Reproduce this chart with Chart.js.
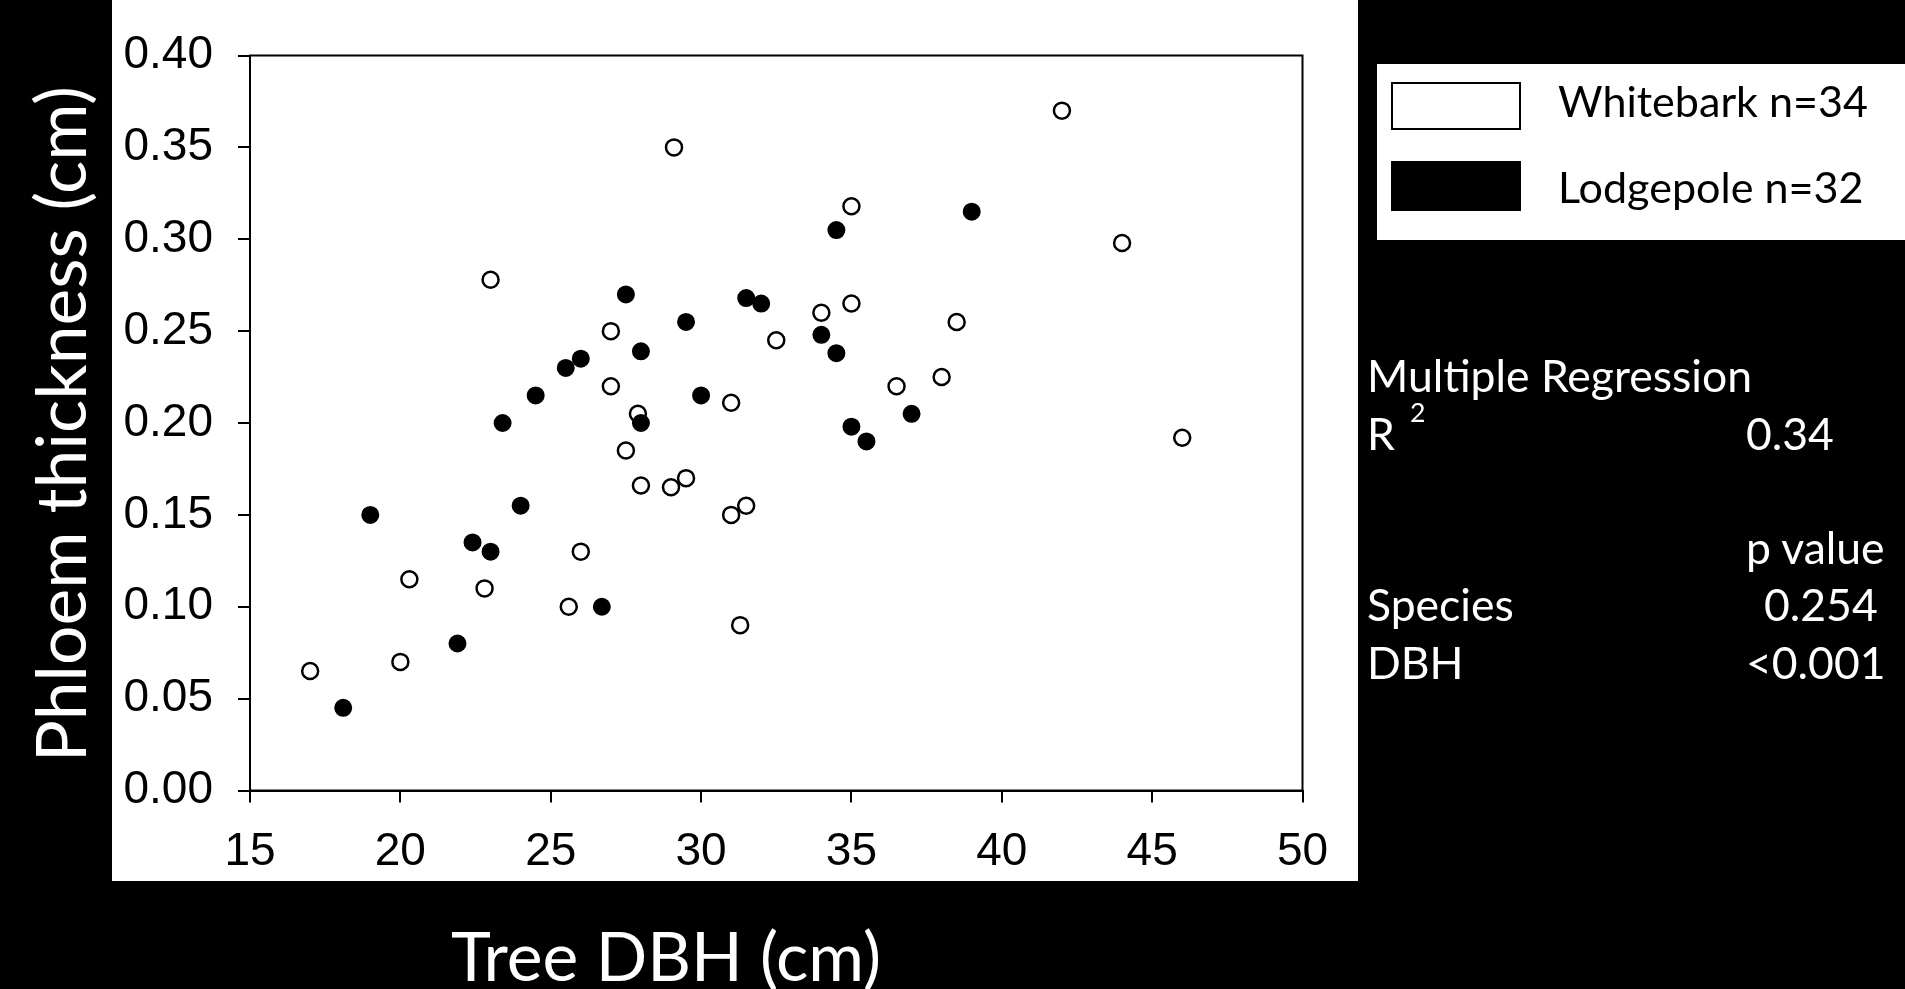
<!DOCTYPE html>
<html>
<head>
<meta charset="utf-8">
<script src="https://cdn.jsdelivr.net/npm/chart.js@4.4.1/dist/chart.umd.min.js"></script>
<style>
  html, body { margin: 0; padding: 0; background: #000; width: 1905px; height: 989px; overflow: hidden; }
  #panel { position: absolute; left: 112px; top: 0; width: 1246px; height: 881px; background: #fff; }
  #c { display: block; }
  #overlay { position: absolute; left: 0; top: 0; width: 1905px; height: 989px; pointer-events: none; }
  #legendBox { position: absolute; left: 1377px; top: 64px; width: 528px; height: 176px; background: #fff; }
  .sw { position: absolute; left: 14px; width: 130px; box-sizing: border-box; }
</style>
</head>
<body>
<div id="panel"><canvas id="c" width="1246" height="881"></canvas></div>
<div id="legendBox">
  <div class="sw" style="top:18px;height:48px;background:#fff;border:2px solid #000;"></div>
  <div class="sw" style="top:97px;height:50px;background:#000;"></div>
</div>
<svg id="overlay" width="1905" height="989" xmlns="http://www.w3.org/2000/svg">
  <g font-family="Lato, 'Open Sans', sans-serif">
    <text id="yTitle" transform="translate(86,424) rotate(-90)" text-anchor="middle" fill="#fff" font-size="70">Phloem thickness (cm)</text>
    <text id="xTitle" x="666" y="981" text-anchor="middle" fill="#fff" font-size="70">Tree DBH (cm)</text>
    <text id="leg1" class="leg" x="1558" y="117" fill="#000" font-size="48">Whitebark n=34</text>
    <text id="leg2" class="leg" x="1558" y="203" fill="#000" font-size="48">Lodgepole n=32</text>
    <text id="st0" class="st" x="1367" y="392" fill="#fff" font-size="40">Multiple Regression</text>
    <text class="st" x="1367" y="450" fill="#fff" font-size="40">R</text>
    <text id="sup" x="1410" y="422" fill="#fff" font-size="22">2</text>
    <text class="st" x="1746" y="450" fill="#fff" font-size="40">0.34</text>
    <text class="st" x="1746" y="564" fill="#fff" font-size="40">p value</text>
    <text class="st" x="1367" y="621" fill="#fff" font-size="40">Species</text>
    <text class="st" x="1764" y="621" fill="#fff" font-size="40">0.254</text>
    <text class="st" x="1367" y="679" fill="#fff" font-size="40">DBH</text>
    <text class="st" x="1746" y="679" fill="#fff" font-size="40">&lt;0.001</text>
  </g>
</svg>
<script>
// ---- data ----
const whitebarkDBH    = [17.0, 20.0, 20.3, 22.8, 23.0, 25.6, 26.0, 27.0, 27.0, 27.5, 27.9, 28.0, 29.0, 29.1, 29.5, 31.0, 31.0, 31.3, 31.5, 32.5, 34.0, 35.0, 35.0, 36.5, 38.0, 38.5, 42.0, 44.0, 46.0];
const whitebarkPhloem = [0.065, 0.070, 0.115, 0.110, 0.278, 0.100, 0.130, 0.250, 0.220, 0.185, 0.205, 0.166, 0.165, 0.350, 0.170, 0.150, 0.211, 0.090, 0.155, 0.245, 0.260, 0.318, 0.265, 0.220, 0.225, 0.255, 0.370, 0.298, 0.192];
const lodgepoleDBH    = [18.1, 19.0, 21.9, 22.4, 23.0, 23.4, 24.0, 24.5, 25.5, 26.0, 26.7, 27.5, 28.0, 28.0, 29.5, 30.0, 31.5, 32.0, 34.0, 34.5, 34.5, 35.0, 35.5, 37.0, 39.0];
const lodgepolePhloem = [0.045, 0.150, 0.080, 0.135, 0.130, 0.200, 0.155, 0.215, 0.230, 0.235, 0.100, 0.270, 0.239, 0.200, 0.255, 0.215, 0.268, 0.265, 0.248, 0.238, 0.305, 0.198, 0.190, 0.205, 0.315];
const xTickValues = [15, 20, 25, 30, 35, 40, 45, 50];
const yTickValues = [0.00, 0.05, 0.10, 0.15, 0.20, 0.25, 0.30, 0.35, 0.40];
const seriesNames = ['Whitebark n=34', 'Lodgepole n=32'];

const toPoints = (xs, ys) => xs.map((x, i) => ({ x: x, y: ys[i] }));

const framePlugin = {
  id: 'frame',
  beforeDatasetsDraw(chart) {
    const a = chart.chartArea, ctx = chart.ctx;
    ctx.save();
    ctx.strokeStyle = '#000';
    ctx.lineWidth = 2;
    ctx.strokeRect(a.left, a.top, a.right - a.left, a.bottom - a.top);
    ctx.restore();
  }
};

const tickFont = { family: "'Liberation Sans', Arial, sans-serif", size: 46 };

new Chart(document.getElementById('c'), {
  type: 'scatter',
  data: {
    datasets: [
      { label: seriesNames[0], data: toPoints(whitebarkDBH, whitebarkPhloem), order: 1,
        pointStyle: 'circle', pointRadius: 8, pointBorderWidth: 2.5,
        pointBackgroundColor: '#fff', pointBorderColor: '#000', backgroundColor: '#fff', borderColor: '#000' },
      { label: seriesNames[1], data: toPoints(lodgepoleDBH, lodgepolePhloem), order: 0,
        pointStyle: 'circle', pointRadius: 8, pointBorderWidth: 2,
        pointBackgroundColor: '#000', pointBorderColor: '#000', backgroundColor: '#000', borderColor: '#000' }
    ]
  },
  options: {
    responsive: false,
    devicePixelRatio: 1,
    animation: false,
    layout: { padding: { left: 0, top: 55.5, right: 55.5, bottom: 0 } },
    plugins: { legend: { display: false }, tooltip: { enabled: false } },
    scales: {
      x: {
        type: 'linear', min: 15, max: 50,
        afterBuildTicks: s => { s.ticks = xTickValues.map(v => ({ value: v })); },
        afterFit: s => { s.height = 90.5; },
        ticks: { color: '#000', font: tickFont, padding: 22, maxRotation: 0, callback: v => String(v) },
        grid: { drawOnChartArea: false, drawTicks: true, tickLength: 12, color: '#000', lineWidth: 2 },
        border: { display: true, color: '#000', width: 2 }
      },
      y: {
        type: 'linear', min: 0, max: 0.4,
        afterBuildTicks: s => { s.ticks = yTickValues.map(v => ({ value: v })); },
        afterFit: s => { s.width = 138; },
        ticks: { color: '#000', font: tickFont, padding: 25, callback: v => Number(v).toFixed(2) },
        grid: { drawOnChartArea: false, drawTicks: true, tickLength: 12, color: '#000', lineWidth: 2 },
        border: { display: true, color: '#000', width: 2 }
      }
    }
  },
  plugins: [framePlugin]
});

function fit(el, target) {
  el.setAttribute('font-size', 100);
  const w = el.getComputedTextLength();
  const s = 100 * target / w;
  el.setAttribute('font-size', s.toFixed(2));
  return s;
}
function layoutText() {
  fit(document.getElementById('yTitle'), 676);
  fit(document.getElementById('xTitle'), 430);
  const ls = fit(document.getElementById('leg1'), 310);
  document.getElementById('leg2').setAttribute('font-size', ls.toFixed(2));
  const ss = fit(document.getElementById('st0'), 385);
  document.querySelectorAll('.st').forEach(e => e.setAttribute('font-size', ss.toFixed(2)));
  document.getElementById('sup').setAttribute('font-size', (ss * 0.6).toFixed(2));
}
layoutText();
if (document.fonts && document.fonts.ready) document.fonts.ready.then(layoutText);
</script>
</body>
</html>
